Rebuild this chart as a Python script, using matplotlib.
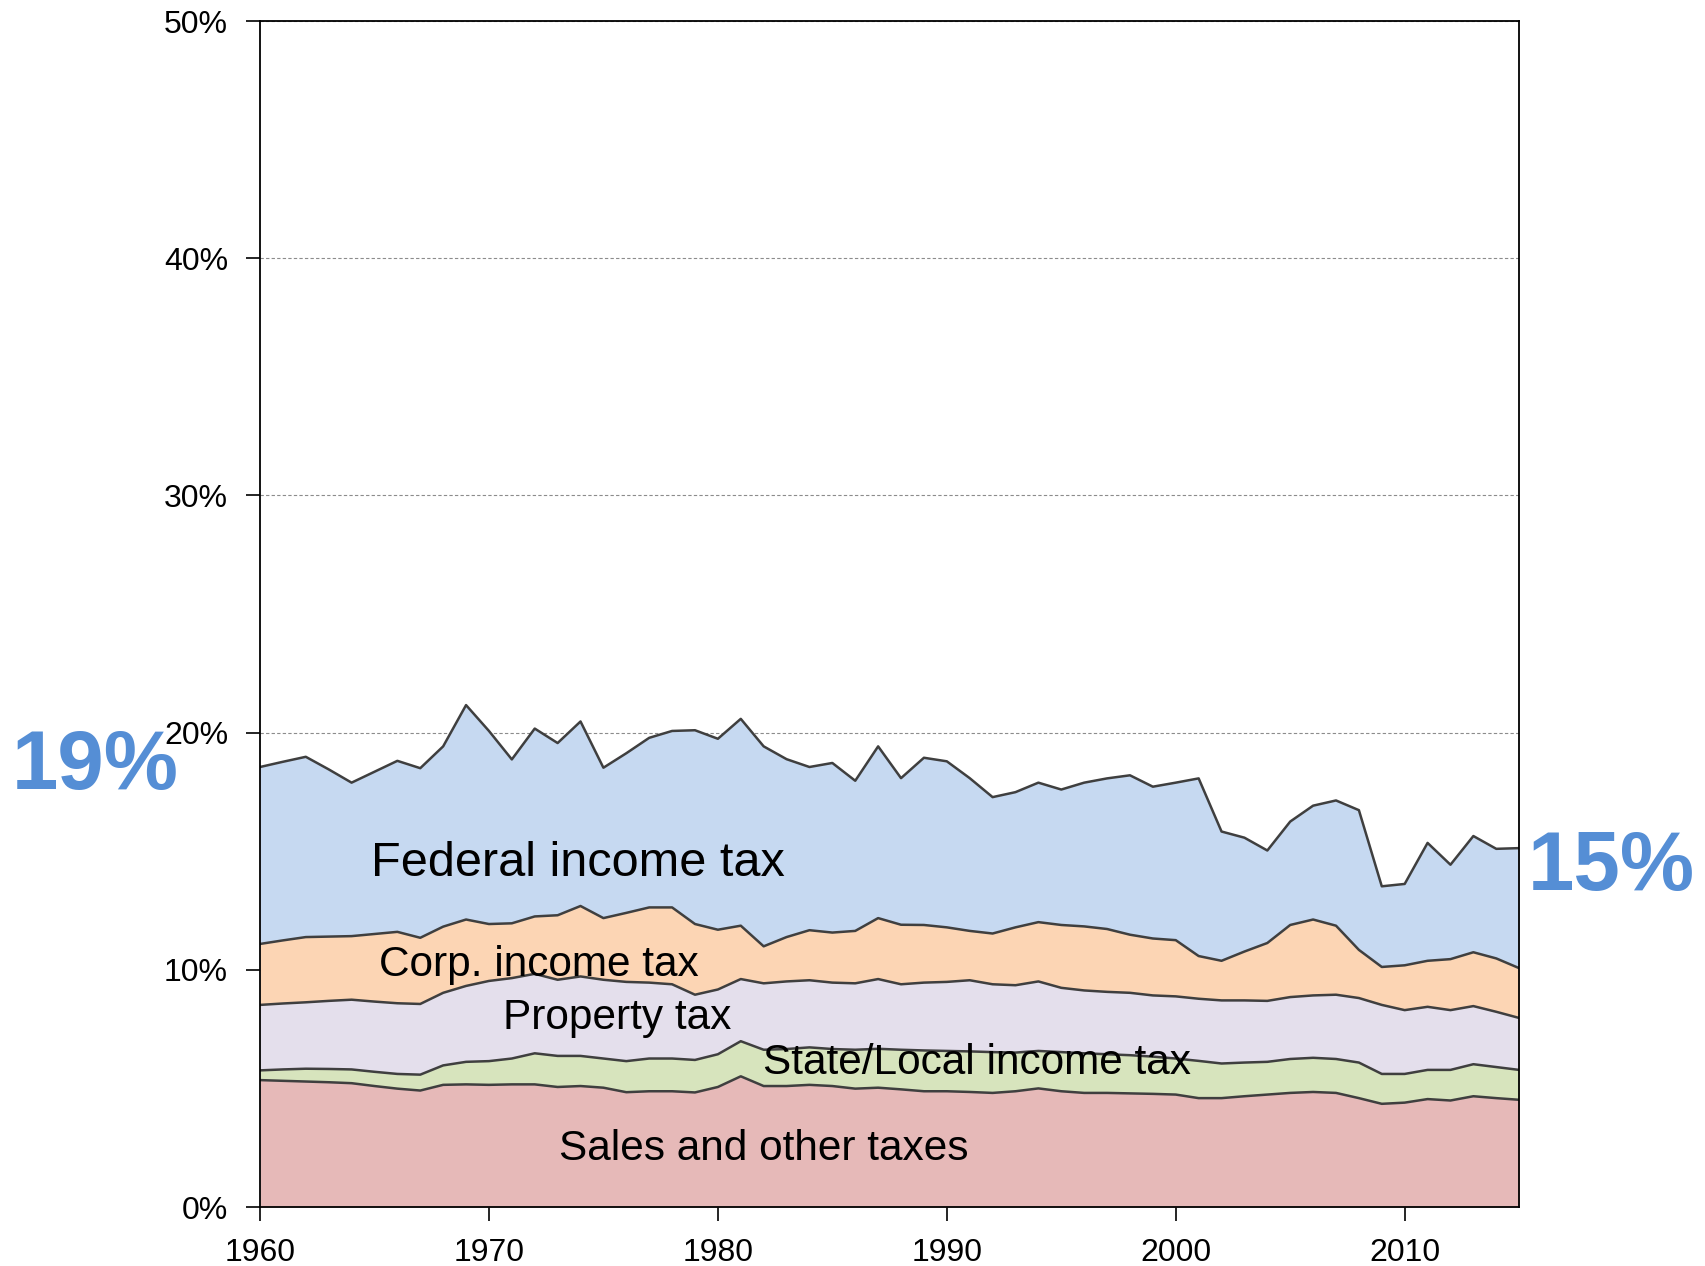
import numpy as np
import matplotlib
matplotlib.use("Agg")
import matplotlib.pyplot as plt
from matplotlib.ticker import FuncFormatter

plt.rcParams['font.family'] = ['Liberation Sans', 'DejaVu Sans']

years = np.arange(1960, 2016)

# cumulative levels (% of GDP), bottom layer first
sales_top = [5.35, 5.32, 5.29, 5.26, 5.22, 5.10, 4.99, 4.91, 5.15, 5.17,
             5.15, 5.17, 5.17, 5.06, 5.10, 5.03, 4.84, 4.88, 4.88, 4.83,
             5.06, 5.51, 5.10, 5.10, 5.15, 5.10, 4.99, 5.03, 4.96, 4.88,
             4.88, 4.85, 4.81, 4.88, 5.00, 4.88, 4.81, 4.81, 4.79, 4.77,
             4.74, 4.59, 4.59, 4.67, 4.74, 4.81, 4.85, 4.81, 4.59, 4.35,
             4.40, 4.55, 4.49, 4.67, 4.59, 4.52]
state_top = [5.76, 5.80, 5.83, 5.82, 5.80, 5.70, 5.61, 5.58, 5.97, 6.12,
             6.15, 6.26, 6.48, 6.37, 6.37, 6.26, 6.15, 6.26, 6.26, 6.20,
             6.44, 6.99, 6.63, 6.66, 6.73, 6.66, 6.63, 6.67, 6.63, 6.60,
             6.58, 6.56, 6.53, 6.51, 6.58, 6.53, 6.48, 6.44, 6.40, 6.34,
             6.26, 6.16, 6.05, 6.09, 6.12, 6.24, 6.29, 6.24, 6.09, 5.61,
             5.61, 5.78, 5.78, 6.02, 5.90, 5.78]
property_top = [8.52, 8.58, 8.63, 8.69, 8.74, 8.66, 8.59, 8.56, 9.03, 9.32,
                9.53, 9.65, 9.83, 9.58, 9.72, 9.58, 9.49, 9.46, 9.39, 8.95,
                9.17, 9.61, 9.43, 9.51, 9.56, 9.46, 9.43, 9.61, 9.39, 9.46,
                9.49, 9.56, 9.39, 9.35, 9.51, 9.24, 9.13, 9.07, 9.03, 8.92,
                8.88, 8.78, 8.71, 8.71, 8.69, 8.85, 8.92, 8.95, 8.81, 8.52,
                8.30, 8.44, 8.30, 8.47, 8.23, 7.97]
corp_top = [11.09, 11.24, 11.38, 11.40, 11.42, 11.51, 11.60, 11.35, 11.82, 12.12,
            11.93, 11.96, 12.25, 12.30, 12.69, 12.18, 12.40, 12.63, 12.63, 11.93,
            11.69, 11.86, 10.99, 11.38, 11.67, 11.57, 11.64, 12.18, 11.90, 11.89,
            11.79, 11.64, 11.53, 11.79, 12.01, 11.89, 11.83, 11.72, 11.48, 11.32,
            11.25, 10.58, 10.38, 10.77, 11.13, 11.89, 12.12, 11.86, 10.84, 10.12,
            10.19, 10.38, 10.45, 10.74, 10.48, 10.07]
federal_top = [18.55, 18.77, 18.98, 18.45, 17.89, 18.35, 18.81, 18.50, 19.42, 21.16,
               20.07, 18.87, 20.17, 19.56, 20.47, 18.52, 19.13, 19.78, 20.07, 20.10,
               19.74, 20.58, 19.42, 18.88, 18.55, 18.72, 17.97, 19.42, 18.08, 18.94,
               18.79, 18.08, 17.28, 17.49, 17.89, 17.60, 17.89, 18.07, 18.20, 17.72,
               17.89, 18.07, 15.83, 15.57, 15.03, 16.25, 16.92, 17.14, 16.73, 13.52,
               13.62, 15.35, 14.43, 15.64, 15.10, 15.13]

layer_names = ["Sales and other taxes", "State/Local income tax", "Property tax",
               "Corp. income tax", "Federal income tax"]
layer_colors = ["#E6B9B8", "#D7E4BD", "#E4DFEC", "#FCD5B4", "#C6D9F1"]

levels = [np.zeros(len(years)), sales_top, state_top, property_top, corp_top, federal_top]

fig = plt.figure(figsize=(17.05, 12.66), dpi=100)
ax = fig.add_axes([0.1525, 0.0466, 0.7385, 0.9368])

# dashed grid behind the areas
ax.set_axisbelow(True)
ax.yaxis.grid(True, linestyle=(0, (3, 2)), color="#8c8c8c", linewidth=0.8)

for i in range(5):
    ax.fill_between(years, levels[i], levels[i + 1], color=layer_colors[i],
                    linewidth=0, zorder=2)
    ax.plot(years, levels[i + 1], color="#3f3f3f", linewidth=1.8, zorder=3)

ax.set_xlim(1960, 2015)
ax.set_ylim(0, 50)
ax.set_xticks(np.arange(1960, 2011, 10))
ax.set_yticks(np.arange(0, 51, 10))
ax.yaxis.set_major_formatter(FuncFormatter(lambda v, p: "%d%%" % v))
ax.tick_params(axis="both", direction="out", length=10, width=1.2,
               labelsize=23, color="black")
ax.tick_params(axis="y", pad=13)
ax.tick_params(axis="x", pad=12)
for s in ax.spines.values():
    s.set_linewidth(1.3)
    s.set_zorder(5)

# layer labels
ax.text(1973.9, 14.5, "Federal income tax", fontsize=35, ha="center", va="center", zorder=4)
ax.text(1972.2, 10.22, "Corp. income tax", fontsize=30.5, ha="center", va="center", zorder=4)
ax.text(1975.6, 7.95, "Property tax", fontsize=30.5, ha="center", va="center", zorder=4)
ax.text(1991.3, 6.05, "State/Local income tax", fontsize=30.5, ha="center", va="center", zorder=4)
ax.text(1982.0, 2.45, "Sales and other taxes", fontsize=30.5, ha="center", va="center", zorder=4)

# start / end totals
fig.text(95 / 1705, 1 - 767 / 1266, "19%", fontsize=60, fontweight="bold",
         color="#558ED5", ha="center", va="center")
fig.text(1611 / 1705, 1 - 868 / 1266, "15%", fontsize=60, fontweight="bold",
         color="#558ED5", ha="center", va="center")

fig.savefig("out.png", dpi=100)
